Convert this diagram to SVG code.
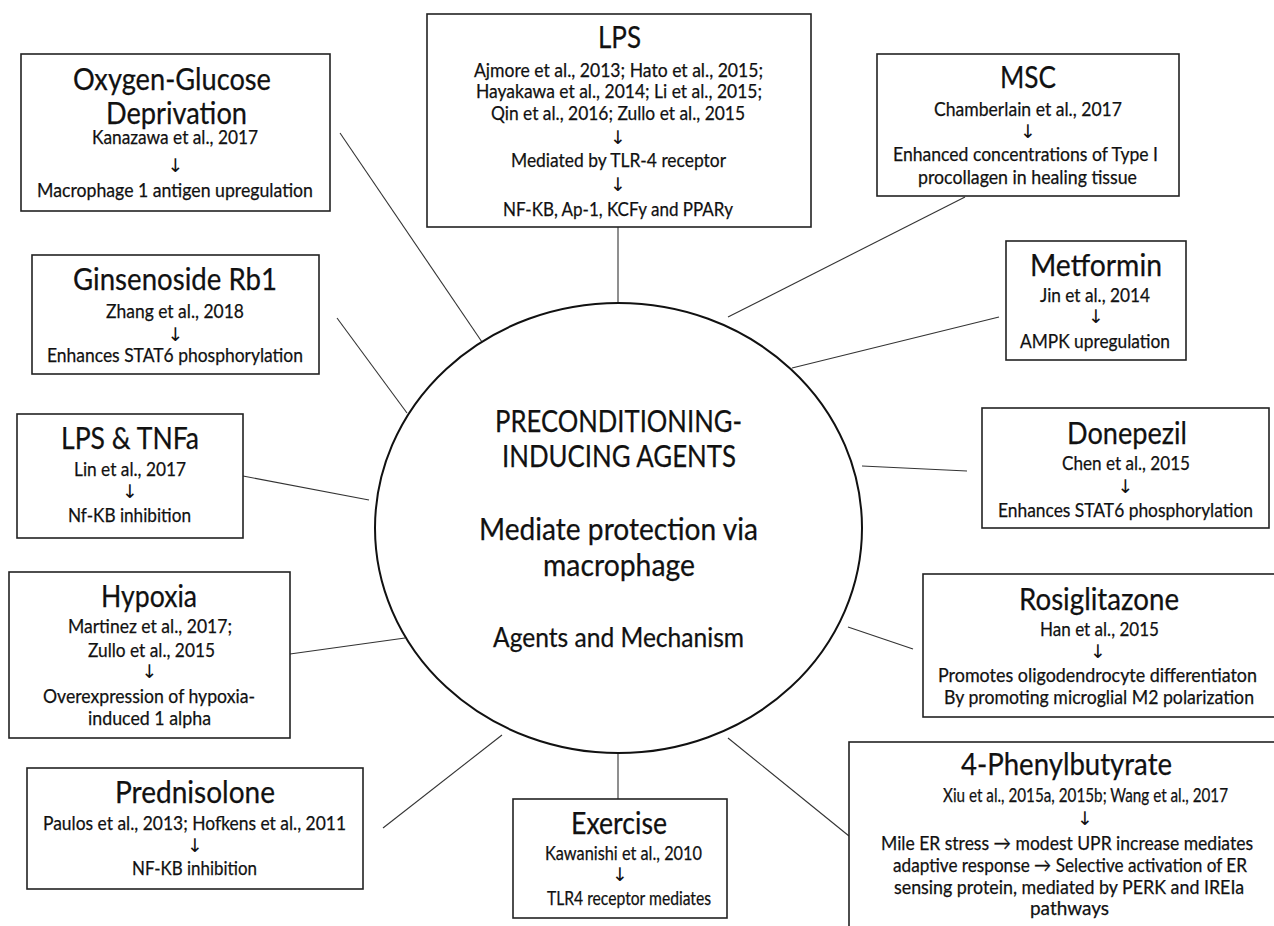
<svg xmlns="http://www.w3.org/2000/svg" width="1274" height="926" viewBox="0 0 1274 926">
<style>
.box{fill:#fff;stroke:#222;stroke-width:1.6}
.ell{fill:#fff;stroke:#111;stroke-width:2}
.con line{stroke:#333;stroke-width:1.1}
text{font-family:Lato,"Open Sans","Liberation Sans",sans-serif;fill:#111;stroke:#111;stroke-width:0.25}
.t{font-size:31px}
.b{font-size:19.5px}
.c{font-size:31px}
.s{font-size:26px}
.ar{font-family:"DejaVu Sans",sans-serif;font-size:19px;text-anchor:middle;stroke-width:0;fill:#111}
</style>
<rect width="1274" height="926" fill="#fff"/>
<g class="con" id="connectors">
<line x1="618" y1="227" x2="618" y2="303"/>
<line x1="340" y1="133" x2="482" y2="342"/>
<line x1="965" y1="197" x2="728" y2="317"/>
<line x1="999" y1="317" x2="792" y2="368"/>
<line x1="337" y1="318" x2="407" y2="413"/>
<line x1="243" y1="476" x2="369" y2="500"/>
<line x1="862" y1="466" x2="967" y2="471"/>
<line x1="290" y1="654" x2="405" y2="638"/>
<line x1="848" y1="627" x2="913" y2="649"/>
<line x1="383" y1="828" x2="502" y2="735"/>
<line x1="618" y1="753" x2="618" y2="799"/>
<line x1="728" y1="738" x2="849" y2="836"/>
</g>
<g id="center">
<ellipse class="ell" cx="618.5" cy="528" rx="243.5" ry="225"/>
<text class="c" x="495" y="432" textLength="247" lengthAdjust="spacingAndGlyphs">PRECONDITIONING-</text>
<text class="c" x="502" y="467" textLength="234" lengthAdjust="spacingAndGlyphs">INDUCING AGENTS</text>
<text class="c" x="479" y="540" textLength="279" lengthAdjust="spacingAndGlyphs">Mediate protection via</text>
<text class="c" x="543" y="576" textLength="152" lengthAdjust="spacingAndGlyphs">macrophage</text>
<text class="s" x="493" y="647" textLength="251" lengthAdjust="spacingAndGlyphs">Agents and Mechanism</text>
</g>
<g id="lps">
<rect class="box" x="427" y="14" width="384" height="213"/>
<text class="t" x="598" y="48" textLength="43" lengthAdjust="spacingAndGlyphs">LPS</text>
<text class="b" x="474" y="77" textLength="289" lengthAdjust="spacingAndGlyphs">Ajmore et al., 2013; Hato et al., 2015;</text>
<text class="b" x="476" y="98" textLength="286" lengthAdjust="spacingAndGlyphs">Hayakawa et al., 2014; Li et al., 2015;</text>
<text class="b" x="491" y="120" textLength="254" lengthAdjust="spacingAndGlyphs">Qin et al., 2016; Zullo et al., 2015</text>
<text class="ar" x="618" y="144">↓</text>
<text class="b" x="511" y="167" textLength="215" lengthAdjust="spacingAndGlyphs">Mediated by TLR-4 receptor</text>
<text class="ar" x="618" y="191">↓</text>
<text class="b" x="503" y="216" textLength="230" lengthAdjust="spacingAndGlyphs">NF-KB, Ap-1, KCFy and PPARy</text>
</g>
<g id="ogd">
<rect class="box" x="21" y="54" width="309" height="157"/>
<text class="t" x="73" y="90" textLength="198" lengthAdjust="spacingAndGlyphs">Oxygen-Glucose</text>
<text class="t" x="106" y="124" textLength="141" lengthAdjust="spacingAndGlyphs">Deprivation</text>
<text class="b" x="92" y="144" textLength="166" lengthAdjust="spacingAndGlyphs">Kanazawa et al., 2017</text>
<text class="ar" x="175.5" y="172">↓</text>
<text class="b" x="37" y="197" textLength="276" lengthAdjust="spacingAndGlyphs">Macrophage 1 antigen upregulation</text>
</g>
<g id="msc">
<rect class="box" x="877" y="54" width="302" height="142"/>
<text class="t" x="1000" y="88" textLength="56" lengthAdjust="spacingAndGlyphs">MSC</text>
<text class="b" x="934" y="116" textLength="188" lengthAdjust="spacingAndGlyphs">Chamberlain et al., 2017</text>
<text class="ar" x="1028" y="138">↓</text>
<text class="b" x="893" y="161" textLength="265" lengthAdjust="spacingAndGlyphs">Enhanced concentrations of Type I</text>
<text class="b" x="918" y="184" textLength="219" lengthAdjust="spacingAndGlyphs">procollagen in healing tissue</text>
</g>
<g id="metformin">
<rect class="box" x="1006" y="241" width="180" height="119"/>
<text class="t" x="1030" y="276" textLength="132" lengthAdjust="spacingAndGlyphs">Metformin</text>
<text class="b" x="1040" y="302" textLength="110" lengthAdjust="spacingAndGlyphs">Jin et al., 2014</text>
<text class="ar" x="1096" y="323">↓</text>
<text class="b" x="1020" y="348" textLength="150" lengthAdjust="spacingAndGlyphs">AMPK upregulation</text>
</g>
<g id="ginsenoside">
<rect class="box" x="32" y="255" width="287" height="119"/>
<text class="t" x="73" y="290" textLength="204" lengthAdjust="spacingAndGlyphs">Ginsenoside Rb1</text>
<text class="b" x="106" y="318" textLength="138" lengthAdjust="spacingAndGlyphs">Zhang et al., 2018</text>
<text class="ar" x="175.5" y="341">↓</text>
<text class="b" x="47" y="362" textLength="256" lengthAdjust="spacingAndGlyphs">Enhances STAT6 phosphorylation</text>
</g>
<g id="lpstnfa">
<rect class="box" x="17" y="414" width="226" height="124"/>
<text class="t" x="61" y="449" textLength="138" lengthAdjust="spacingAndGlyphs">LPS &amp; TNFa</text>
<text class="b" x="74" y="476" textLength="112" lengthAdjust="spacingAndGlyphs">Lin et al., 2017</text>
<text class="ar" x="130" y="498">↓</text>
<text class="b" x="68" y="522" textLength="123" lengthAdjust="spacingAndGlyphs">Nf-KB inhibition</text>
</g>
<g id="donepezil">
<rect class="box" x="982" y="408" width="287" height="120"/>
<text class="t" x="1067" y="444" textLength="120" lengthAdjust="spacingAndGlyphs">Donepezil</text>
<text class="b" x="1062" y="470" textLength="128" lengthAdjust="spacingAndGlyphs">Chen et al., 2015</text>
<text class="ar" x="1125.5" y="493">↓</text>
<text class="b" x="998" y="517" textLength="255" lengthAdjust="spacingAndGlyphs">Enhances STAT6 phosphorylation</text>
</g>
<g id="hypoxia">
<rect class="box" x="9" y="572" width="281" height="166"/>
<text class="t" x="101" y="607" textLength="96" lengthAdjust="spacingAndGlyphs">Hypoxia</text>
<text class="b" x="68" y="633" textLength="164" lengthAdjust="spacingAndGlyphs">Martinez et al., 2017;</text>
<text class="b" x="88" y="657" textLength="127" lengthAdjust="spacingAndGlyphs">Zullo et al., 2015</text>
<text class="ar" x="149.5" y="678">↓</text>
<text class="b" x="43" y="703" textLength="212" lengthAdjust="spacingAndGlyphs">Overexpression of hypoxia-</text>
<text class="b" x="88" y="725" textLength="123" lengthAdjust="spacingAndGlyphs">induced 1 alpha</text>
</g>
<g id="rosiglitazone">
<rect class="box" x="923" y="574" width="360" height="143"/>
<text class="t" x="1019" y="610" textLength="160" lengthAdjust="spacingAndGlyphs">Rosiglitazone</text>
<text class="b" x="1040" y="636" textLength="119" lengthAdjust="spacingAndGlyphs">Han et al., 2015</text>
<text class="ar" x="1098" y="658">↓</text>
<text class="b" x="938" y="682" textLength="319" lengthAdjust="spacingAndGlyphs">Promotes oligodendrocyte differentiaton</text>
<text class="b" x="944" y="704" textLength="310" lengthAdjust="spacingAndGlyphs">By promoting microglial M2 polarization</text>
</g>
<g id="prednisolone">
<rect class="box" x="27" y="768" width="336" height="121"/>
<text class="t" x="115" y="803" textLength="160" lengthAdjust="spacingAndGlyphs">Prednisolone</text>
<text class="b" x="43" y="830" textLength="303" lengthAdjust="spacingAndGlyphs">Paulos et al., 2013; Hofkens et al., 2011</text>
<text class="ar" x="195" y="852">↓</text>
<text class="b" x="132" y="875" textLength="125" lengthAdjust="spacingAndGlyphs">NF-KB inhibition</text>
</g>
<g id="exercise">
<rect class="box" x="513" y="799" width="214" height="119"/>
<text class="t" x="571" y="834" textLength="96" lengthAdjust="spacingAndGlyphs">Exercise</text>
<text class="b" x="545" y="860" textLength="157" lengthAdjust="spacingAndGlyphs">Kawanishi et al., 2010</text>
<text class="ar" x="620" y="881">↓</text>
<text class="b" x="547" y="905" textLength="164" lengthAdjust="spacingAndGlyphs">TLR4 receptor mediates</text>
</g>
<g id="phenylbutyrate">
<rect class="box" x="849" y="742" width="440" height="200"/>
<text class="t" x="961" y="775" textLength="211" lengthAdjust="spacingAndGlyphs">4-Phenylbutyrate</text>
<text class="b" x="943" y="802" textLength="285" lengthAdjust="spacingAndGlyphs">Xiu et al., 2015a, 2015b; Wang et al., 2017</text>
<text class="ar" x="1085" y="825">↓</text>
<text class="b" x="881" y="850" textLength="372" lengthAdjust="spacingAndGlyphs">Mile ER stress → modest UPR increase mediates</text>
<text class="b" x="893" y="872" textLength="354" lengthAdjust="spacingAndGlyphs">adaptive response → Selective activation of ER</text>
<text class="b" x="894" y="894" textLength="350" lengthAdjust="spacingAndGlyphs">sensing protein, mediated by PERK and IREIa</text>
<text class="b" x="1030" y="915" textLength="79" lengthAdjust="spacingAndGlyphs">pathways</text>
</g>
</svg>
